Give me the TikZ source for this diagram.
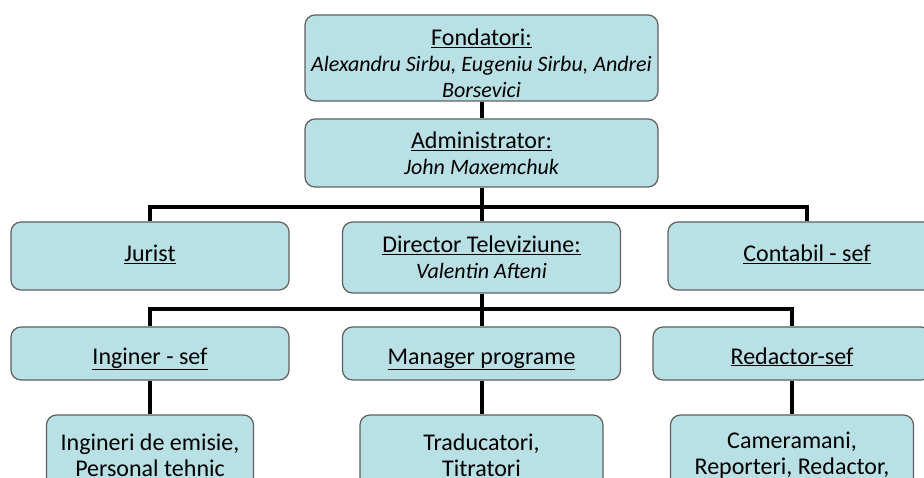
\documentclass[tikz,border=0pt]{standalone}
\usepackage{fontspec}
\setmainfont{Carlito}
\definecolor{boxfill}{RGB}{185,224,228}
\definecolor{boxline}{RGB}{95,95,95}
\newcommand\persname[1]{{\fontsize{22}{26}\selectfont\itshape #1}}
\tikzset{
  orgbox/.style={draw=boxline, line width=1.2pt, fill=boxfill, rounded corners=10pt,
    align=center, inner sep=2pt, font=\fontsize{24}{26}\selectfont},
  onerow/.style={text height=18pt, text depth=6pt},
  lowrow/.style={text height=21pt, text depth=0pt},
  conn/.style={line width=4pt}
}
\begin{document}
\begin{tikzpicture}[x=1pt,y=-1pt]
  \useasboundingbox (0,0) rectangle (924,478);
  \clip (0,0) rectangle (924,478);
  \fill[white] (0,0) rectangle (924,478);
  % top
  \node[orgbox, minimum width=353pt, minimum height=86pt] (fond) at (481.5,58)
    {\rule{0pt}{27pt}\underline{Fondatori:}\\\persname{Alexandru Sirbu, Eugeniu Sirbu, Andrei}\\\persname{Borsevici}};
  \node[orgbox, minimum width=353pt, minimum height=68pt] (admin) at (481.5,153)
    {\underline{Administrator:}\\\persname{John Maxemchuk}};
  % second row
  \node[orgbox, onerow, minimum width=278pt, minimum height=68pt] (jurist) at (150,256) {\underline{Jurist}};
  \node[orgbox, minimum width=278pt, minimum height=71pt] (director) at (481.5,257.5)
    {\underline{Director Televiziune:}\\\persname{Valentin Afteni}};
  \node[orgbox, onerow, minimum width=278pt, minimum height=68pt] (contabil) at (807,256) {\underline{Contabil - sef}};
  % third row
  \node[orgbox, lowrow, minimum width=278pt, minimum height=53pt] (inginer) at (150,353.5) {\underline{Inginer - sef}};
  \node[orgbox, lowrow, minimum width=278pt, minimum height=53pt] (manager) at (481.5,353.5) {\underline{Manager programe}};
  \node[orgbox, lowrow, minimum width=278pt, minimum height=53pt] (redactor) at (792,353.5) {\underline{Redactor-sef}};
  % bottom row
  \node[orgbox, minimum width=207pt, minimum height=80pt] (ingineri) at (150,455)
    {Ingineri de emisie,\\Personal tehnic};
  \node[orgbox, minimum width=243pt, minimum height=80pt] (traducatori) at (481.5,455)
    {Traducatori,\\Titratori};
  \node[orgbox, minimum width=243pt, minimum height=80pt] (cameramani) at (792,455)
    {Cameramani,\\Reporteri, Redactor,};
  % connectors
  \coordinate (bus1) at (481.5,207);
  \coordinate (bus2) at (481.5,309);
  \draw[conn] (fond) -- (admin);
  \draw[conn] (admin.south) -- (bus1);
  \draw[conn] (jurist.north) |- (bus1) -| (contabil.north);
  \draw[conn] (bus1) -- (director.north);
  \draw[conn] (director.south) -- (bus2);
  \draw[conn] (inginer.north) |- (bus2) -| (redactor.north);
  \draw[conn] (bus2) -- (manager.north);
  \draw[conn] (inginer) -- (ingineri);
  \draw[conn] (manager) -- (traducatori);
  \draw[conn] (redactor) -- (cameramani);
\end{tikzpicture}
\end{document}
